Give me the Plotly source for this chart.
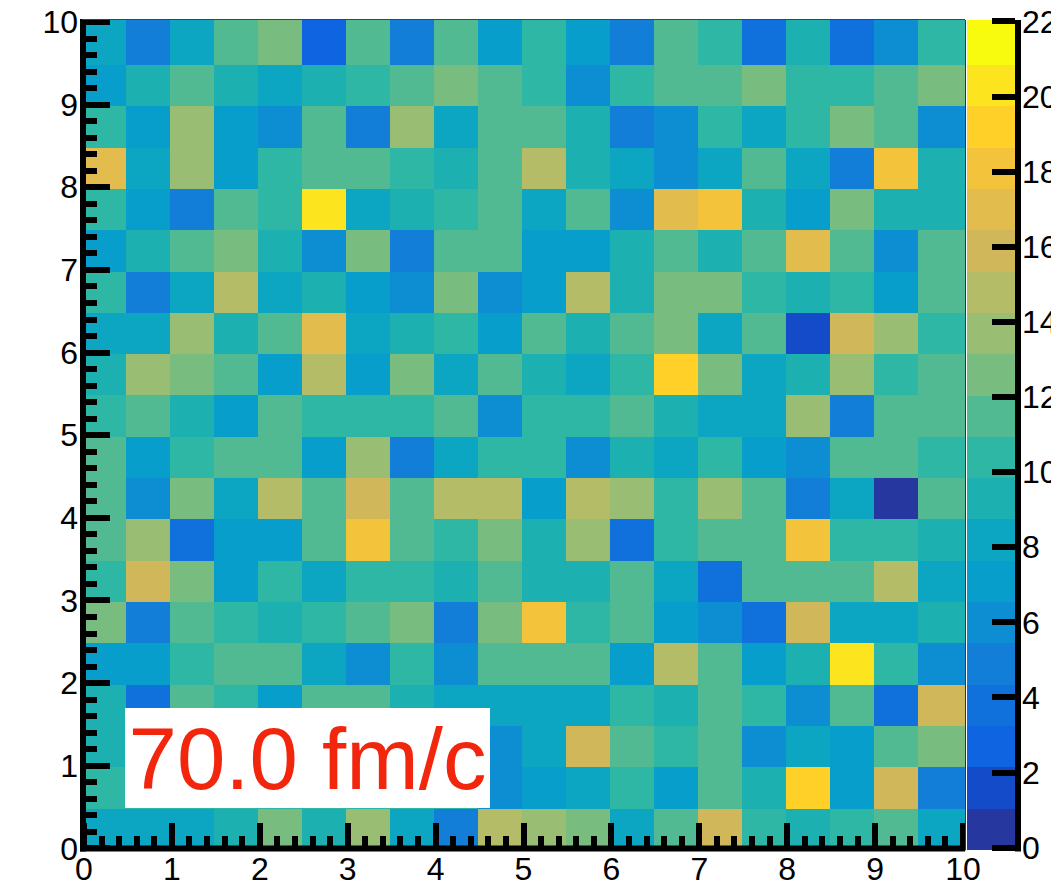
import plotly.graph_objects as go

W, H = 1051, 885
PL, PR, PT, PB = 82.0, 965.0, 20.0, 849.6   # plot box in page pixels

# Counts per cell, top row first (left to right). Cells hidden behind the label box are estimates.
row_10_0 = [8, 5, 8, 12, 13, 3, 12, 5, 12, 7, 10, 7, 5, 12, 10, 4, 9, 4, 6, 10]
row_9_5 = [7, 9, 12, 9, 8, 9, 10, 12, 13, 12, 10, 6, 10, 12, 12, 13, 10, 10, 12, 13]
row_9_0 = [10, 7, 14, 7, 6, 12, 5, 14, 8, 12, 12, 9, 5, 6, 10, 8, 10, 13, 12, 6]
row_8_5 = [17, 8, 14, 7, 10, 12, 12, 10, 9, 12, 15, 9, 8, 6, 8, 12, 8, 5, 18, 9]
row_8_0 = [10, 7, 5, 12, 10, 20, 8, 9, 10, 12, 8, 12, 6, 17, 18, 9, 7, 13, 9, 9]
row_7_5 = [7, 9, 12, 13, 9, 6, 13, 5, 12, 12, 7, 7, 9, 12, 9, 12, 17, 12, 6, 12]
row_7_0 = [10, 5, 8, 15, 8, 9, 7, 6, 13, 6, 7, 15, 9, 13, 13, 10, 9, 10, 7, 12]
row_6_5 = [8, 8, 14, 9, 12, 17, 8, 9, 10, 7, 12, 9, 12, 13, 8, 12, 2, 16, 14, 10]
row_6_0 = [9, 14, 13, 12, 7, 15, 7, 13, 8, 12, 9, 8, 10, 19, 13, 8, 9, 14, 10, 12]
row_5_5 = [10, 12, 9, 7, 12, 10, 10, 10, 12, 6, 10, 10, 12, 9, 8, 8, 14, 5, 12, 12]
row_5_0 = [12, 7, 10, 12, 12, 7, 14, 5, 8, 10, 10, 6, 9, 8, 10, 7, 6, 12, 12, 10]
row_4_5 = [12, 6, 13, 8, 15, 12, 16, 12, 15, 15, 7, 15, 14, 10, 14, 12, 5, 8, 1, 12]
row_4_0 = [12, 14, 4, 7, 7, 12, 18, 12, 10, 13, 9, 14, 4, 10, 12, 12, 18, 10, 10, 9]
row_3_5 = [10, 16, 13, 7, 10, 8, 10, 10, 9, 12, 9, 9, 12, 8, 4, 12, 12, 12, 15, 8]
row_3_0 = [13, 5, 12, 10, 9, 10, 12, 13, 5, 13, 18, 10, 12, 7, 6, 4, 16, 8, 8, 9]
row_2_5 = [7, 7, 10, 12, 12, 8, 6, 10, 6, 12, 12, 12, 7, 15, 12, 7, 9, 20, 10, 6]
row_2_0 = [9, 4, 12, 10, 7, 12, 12, 9, 8, 8, 8, 8, 10, 9, 12, 10, 6, 12, 4, 16]
row_1_5 = [9, 10, 10, 10, 10, 10, 10, 10, 10, 6, 8, 16, 12, 10, 12, 6, 8, 7, 12, 13]
row_1_0 = [10, 10, 10, 10, 10, 10, 10, 10, 10, 6, 7, 8, 10, 7, 12, 9, 19, 7, 16, 5]
row_0_5 = [8, 8, 8, 9, 13, 9, 14, 8, 5, 15, 14, 13, 8, 12, 16, 10, 9, 10, 12, 8]
rows_top_down = [row_10_0, row_9_5, row_9_0, row_8_5, row_8_0, row_7_5, row_7_0, row_6_5, row_6_0, row_5_5,
                 row_5_0, row_4_5, row_4_0, row_3_5, row_3_0, row_2_5, row_2_0, row_1_5, row_1_0, row_0_5]

band_colors = ["#26389f", "#144bc8", "#0f64e1", "#1070dc", "#127ed7", "#0e8ed2", "#089ecb", "#0ca5c2",
               "#1cb0b0", "#2eb7a5", "#52ba92", "#78bc80", "#9abd74", "#b4bc67", "#d0b85a", "#e2bd4d",
               "#f4c33c", "#ffd028", "#fce41e", "#f9fb0e"]
cbar_ticks = [0, 2, 4, 6, 8, 10, 12, 14, 16, 18, 20, 22]
axis_ticks = [0, 1, 2, 3, 4, 5, 6, 7, 8, 9, 10]

# pixel scales of the two axes (ticks are slightly offset from the cell grid, as in the source)
X0, XU = 84.0, 87.9
Y0, YU = 848.0, 82.6
C0, CU = 847.3, 37.54
FONT = "Liberation Sans"

xedges = [(PL + 44.0 * i - X0) / XU for i in range(20)] + [(PR - X0) / XU]
yedges = [(Y0 - (PB - 41.3 * i)) / YU for i in range(20)] + [(Y0 - PT) / YU]

zmin = (C0 - PB) / CU
zmax = (C0 - PT) / CU
colorscale = []
for k, c in enumerate(band_colors):
    lo = 1.1 * k / (zmax - zmin)
    hi = 1.0 if k == 19 else 1.1 * (k + 1) / (zmax - zmin)
    colorscale += [[lo, c], [hi, c]]

def px(x):
    return (x - PL) / (PR - PL)

def py(y):
    return (PB - y) / (PB - PT)

fig = go.Figure(go.Heatmap(
    x=xedges, y=yedges, z=rows_top_down[::-1],
    zmin=zmin, zmax=zmax, colorscale=colorscale,
    colorbar=dict(
        xref="paper", yref="paper", x=px(967), xanchor="left", xpad=0,
        y=0, yanchor="bottom", ypad=0,
        lenmode="fraction", len=1, thicknessmode="pixels", thickness=48,
        outlinewidth=0, borderwidth=0,
        tickmode="array", tickvals=cbar_ticks, ticks="inside", ticklen=23, tickwidth=5.5,
        tickcolor="black", tickfont=dict(family=FONT, size=32, color="black"),
    ),
))

def axis(rng, major, minor, standoff):
    return dict(
        range=rng, tickmode="array", tickvals=axis_ticks, ticks="inside",
        ticklen=major, tickwidth=5.5, tickcolor="black", showgrid=False, zeroline=False,
        showline=False, tickfont=dict(family=FONT, size=32, color="black"), ticklabelstandoff=standoff,
        minor=dict(dtick=0.2, ticks="inside", ticklen=minor, tickwidth=5.5, tickcolor="black", showgrid=False),
    )

def line(x0, y0, x1, y1, w, c="black"):
    return dict(type="line", xref="paper", yref="paper", x0=px(x0), y0=py(y0), x1=px(x1), y1=py(y1),
                line=dict(color=c, width=w), layer="above")

fig.update_layout(
    width=W, height=H, autosize=False, paper_bgcolor="white", plot_bgcolor="white",
    margin=dict(l=PL, r=W - PR, t=PT, b=H - PB, pad=0, autoexpand=False),
    xaxis=axis([(PL - X0) / XU, (PR - X0) / XU], 26.6, 13.6, -3),
    yaxis=axis([(Y0 - PB) / YU, (Y0 - PT) / YU], 28, 15, 3),
    shapes=[
        line(83, 19, 83, 851, 6),
        line(80, 848, 965, 848, 6),
        line(82, 19.5, 965, 19.5, 1, "#2b4a55"),
        line(965.5, 20, 965.5, 850, 1, "#1f3a45"),
        line(1018, 20, 1018, 851, 6),
    ],
    annotations=[dict(
        xref="paper", yref="paper", x=px(125), y=py(708), xanchor="left", yanchor="top",
        width=365, height=100, bgcolor="white", borderpad=0, borderwidth=0, showarrow=False, align="center",
        text="70.0 fm/c", font=dict(family=FONT, size=87, color="#f2250d"),
    )],
)

fig.write_html("out.html", config=dict(displayModeBar=False),
               post_script="document.body.style.margin='0';document.documentElement.style.overflow='hidden';")
